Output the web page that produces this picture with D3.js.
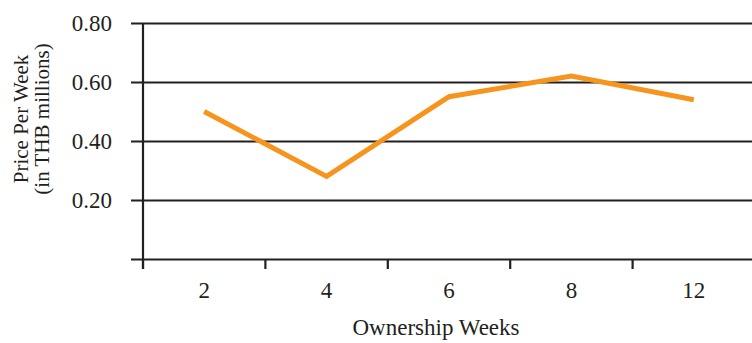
<!DOCTYPE html>
<html>
<head>
<meta charset="utf-8">
<script src="https://cdn.jsdelivr.net/npm/d3@7"></script>
<style>
  body { margin: 0; background: #fff; }
  text { font-family: "Liberation Serif", "DejaVu Serif", serif; fill: #231f20; }
</style>
</head>
<body>
<script>
// chart data
var weeks = ["2", "4", "6", "8", "12"];
var prices = [0.50, 0.28, 0.55, 0.62, 0.54];
var yTicks = [0, 0.20, 0.40, 0.60, 0.80];

var w = 752, h = 343;
var plotLeft = 143, plotRight = 755, plotTop = 23, plotBottom = 259;

var svg = d3.select("body").append("svg")
    .attr("width", w)
    .attr("height", h);

var x = d3.scaleBand()
    .domain(weeks)
    .range([plotLeft, plotRight]);

var y = d3.scaleLinear()
    .domain([0, 0.8])
    .range([plotBottom, plotTop]);

// gridlines + y labels
var yAxis = d3.axisLeft(y)
    .tickValues(yTicks)
    .tickSize(-(plotRight - plotLeft))
    .tickPadding(31)
    .tickFormat(function(d){ return d === 0 ? "" : d3.format(".2f")(d); });

var gy = svg.append("g")
    .attr("transform", "translate(" + plotLeft + ",0)")
    .call(yAxis);
gy.select(".domain").remove();
gy.selectAll(".tick line")
    .attr("x1", -12)
    .attr("stroke", "#231f20")
    .attr("stroke-width", 2.2);
gy.selectAll(".tick text")
    .style("font-size", "23px");

// y axis line
svg.append("line")
    .attr("x1", plotLeft).attr("x2", plotLeft)
    .attr("y1", plotTop).attr("y2", plotBottom + 10)
    .attr("stroke", "#231f20")
    .attr("stroke-width", 2.2);

// x axis: ticks on band edges, labels in band centers
var edges = weeks.map(function(d){ return x(d); }).concat([plotRight]);
svg.selectAll(".xtick")
    .data(edges)
    .enter()
    .append("line")
    .attr("class", "xtick")
    .attr("x1", function(d){ return d; })
    .attr("x2", function(d){ return d; })
    .attr("y1", plotBottom)
    .attr("y2", plotBottom + 10)
    .attr("stroke", "#231f20")
    .attr("stroke-width", 2.2);

var xAxis = d3.axisBottom(x).tickSize(0).tickPadding(23);
var gx = svg.append("g")
    .attr("transform", "translate(0," + plotBottom + ")")
    .call(xAxis);
gx.select(".domain").remove();
gx.selectAll(".tick text").style("font-size", "23px");

// line
var line = d3.line()
    .x(function(d, i){ return x(weeks[i]) + x.bandwidth() / 2; })
    .y(function(d){ return y(d); });

svg.append("path")
    .datum(prices)
    .attr("d", line)
    .attr("fill", "none")
    .attr("stroke", "#f7941d")
    .attr("stroke-width", 5);

// axis titles
svg.append("text")
    .attr("x", 436)
    .attr("y", 335)
    .attr("text-anchor", "middle")
    .style("font-size", "23px")
    .text("Ownership Weeks");

var yTitle = svg.append("text")
    .attr("transform", "translate(28,119) rotate(-90)")
    .attr("text-anchor", "middle")
    .style("font-size", "21px");
yTitle.append("tspan").attr("x", 0).attr("y", 0).text("Price Per Week");
yTitle.append("tspan").attr("x", 0).attr("y", 21).text("(in THB millions)");
</script>
</body>
</html>
